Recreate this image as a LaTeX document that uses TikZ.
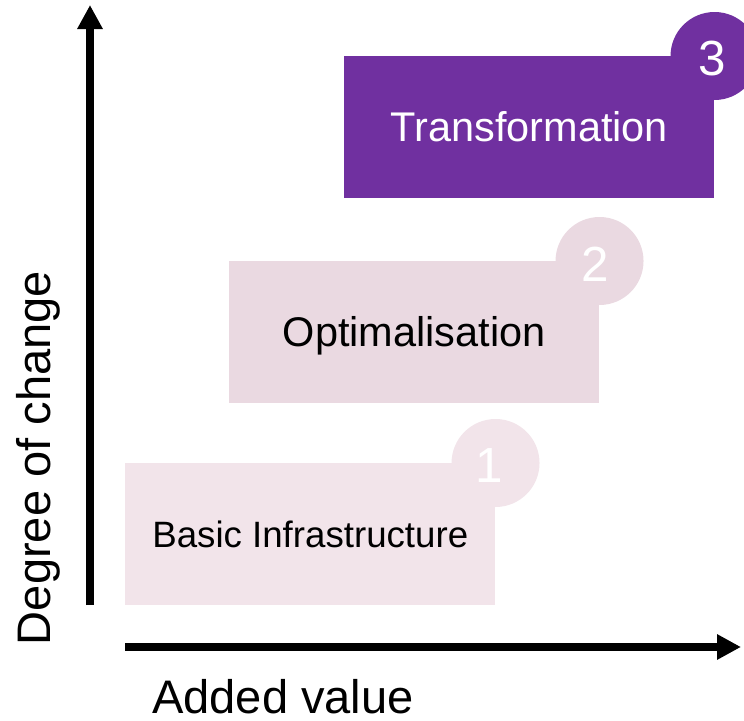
\documentclass[tikz,border=0pt]{standalone}
\usepackage{fontspec}
\setmainfont{Liberation Sans}
\usetikzlibrary{arrows.meta,positioning}
\definecolor{stageone}{HTML}{F2E4EA}
\definecolor{stagetwo}{HTML}{EAD9E1}
\definecolor{stagethree}{HTML}{7030A0}

\begin{document}
\begin{tikzpicture}[x=0.75pt, y=-0.75pt,
  stagebox/.style={rectangle, anchor=north west, minimum width=277.5pt, minimum height=106pt, inner sep=0pt},
  stagedot/.style={circle, minimum size=66pt, inner sep=0pt},
  stagenum/.style={inner sep=0pt, text=white, font=\fontsize{37}{40}\selectfont},
  axis/.style={line width=6pt, -{Triangle[width=18pt,length=18pt]}}]
  \useasboundingbox (0,0) rectangle (744,721);
  % axes
  \coordinate (O) at (90,605);
  \coordinate (Ytop) at (90,5);
  \coordinate (Xleft) at (125,647);
  \coordinate (Xright) at (741,647);
  \draw[axis] (O) -- (Ytop);
  \draw[axis] (Xleft) -- (Xright);
  \node [rotate=90, font=\fontsize{35.3}{38}\selectfont] (Ylabel) at (38,458) {Degree of change};
  \node [font=\fontsize{35.3}{38}\selectfont, inner sep=0pt] (Xlabel) at (283,697) {Added value};
  % stages
  \node [stagebox, fill=stageone, font=\fontsize{27.5}{30}\selectfont] (S1) at (125,463) {Basic Infrastructure};
  \node [stagedot, fill=stageone] (D1) at (S1.north east) {};
  \node [stagenum] (N1) at ([shift={(-6,3)}]D1.center) {1};
  \node [stagebox, fill=stagetwo, text depth=0pt, font=\fontsize{31.1}{34}\selectfont] (S2) at (229,261) {Optimalisation};
  \node [stagedot, fill=stagetwo] (D2) at (S2.north east) {};
  \node [stagenum] (N2) at ([shift={(-4,3)}]D2.center) {2};
  \node [stagebox, fill=stagethree, text=white, font=\fontsize{31.1}{34}\selectfont] (S3) at (344,56) {Transformation};
  \node [stagedot, fill=stagethree] (D3) at (S3.north east) {};
  \node [stagenum] (N3) at ([shift={(-2,3)}]D3.center) {3};
\end{tikzpicture}
\end{document}
